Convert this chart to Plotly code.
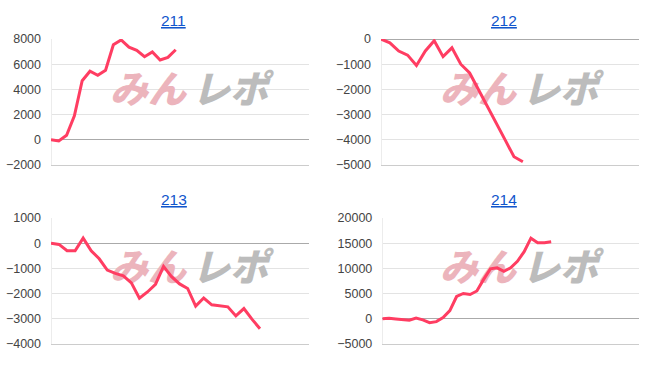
import plotly.graph_objects as go

W, H = 650, 371

titles = ["211", "212", "213", "214"]
s211 = [0, -100, 350, 1900, 4680, 5440, 5120, 5520, 7550, 7930, 7350, 7100, 6590, 6970, 6330, 6540, 7150]
s212 = [0, -150, -475, -640, -1050, -475, -65, -700, -350, -1000, -1350, -2000, -2670, -3340, -4010, -4680, -4880]
s213 = [0, -50, -300, -300, 200, -300, -620, -1070, -1200, -1300, -1580, -2190, -1940, -1640, -920,
        -1330, -1620, -1800, -2500, -2180, -2450, -2500, -2530, -2890, -2600, -3020, -3400]
s214 = [0, 100, -50, -250, -300, 130, -250, -800, -600, 200, 1600, 4400, 5000, 4800, 5500, 7800,
        9900, 10100, 9400, 10100, 11400, 13300, 16000, 15100, 15100, 15300]
series = [s211, s212, s213, s214]
y_ranges = [(-2000, 8000), (-5000, 0), (-4000, 1000), (-5000, 20000)]
y_dticks = [2000, 1000, 1000, 5000]
x_max = [33.1, 29.1, 32.1, 38.0]
watermark = ["みん", "レポ"]
watermark_colors = ["#ecb4bc", "#bcbcbc"]

# pixel geometry of each panel: (left, right, top, bottom)
boxes = [(51, 309, 33.3, 164), (381, 639, 33.3, 164), (51, 309, 219.3, 350), (382.3, 639, 219.3, 350)]
title_pos = [(173.3, 14.5), (504, 14.5), (174, 200), (504, 200)]

def px(x):
    return x / W

def py(y):
    return 1 - y / H

fig = go.Figure()
layout = dict(width=W, height=H, margin=dict(l=0, r=0, t=0, b=0),
              paper_bgcolor="white", plot_bgcolor="white", showlegend=False,
              font=dict(family="Liberation Sans, Arial", size=12, color="#444444"))
annotations = []
for i, (vals, box) in enumerate(zip(series, boxes)):
    n = i + 1
    xa = "x" if n == 1 else f"x{n}"
    ya = "y" if n == 1 else f"y{n}"
    l, r, t, b = box
    dx = 0 if l < 200 else 330
    dy = 0 if t < 100 else 185
    ymin, ymax = y_ranges[i]

    def to_data(pxx, pyy):
        return ((pxx - l) / (r - l) * x_max[i], ymax - (pyy - t) / (b - t) * (ymax - ymin))

    # watermark text (drawn before the data line so it sits underneath)
    for k, (wt, wc) in enumerate(zip(watermark, watermark_colors)):
        wx, wy = to_data([148, 230][k] + dx, 90 + dy)
        fig.add_trace(go.Scatter(x=[wx], y=[wy], mode="text", text=[wt], textposition="middle center",
                                 textfont=dict(family="Noto Sans CJK JP", size=38, color=wc,
                                               weight=900, style="italic"),
                                 xaxis=xa, yaxis=ya, hoverinfo="skip", cliponaxis=False))
    fig.add_trace(go.Scatter(x=list(range(len(vals))), y=vals, mode="lines",
                             line=dict(color="#ff3d62", width=3), xaxis=xa, yaxis=ya,
                             hoverinfo="skip"))
    layout["xaxis" if n == 1 else f"xaxis{n}"] = dict(
        domain=[px(l), px(r)], range=[0, x_max[i]], anchor=ya,
        showticklabels=False, showgrid=False, zeroline=True, zerolinecolor="#ececec",
        zerolinewidth=1, showline=True, linecolor="#cccccc", linewidth=1, ticks="",
        fixedrange=True)
    layout["yaxis" if n == 1 else f"yaxis{n}"] = dict(
        domain=[py(b), py(t)], range=list(y_ranges[i]), dtick=y_dticks[i], tick0=0,
        tickformat="d", anchor=xa, showgrid=True, gridcolor="#e3e3e3", gridwidth=1,
        zeroline=True, zerolinecolor="#aaaaaa", zerolinewidth=1, showline=False,
        ticks="", ticklabelstandoff=9, tickfont=dict(size=12.5, color="#444444"),
        fixedrange=True)
    tx, ty = title_pos[i]
    annotations.append(dict(text=titles[i], x=px(tx), y=py(ty), xref="paper", yref="paper",
                            showarrow=False, xanchor="center", yanchor="middle",
                            font=dict(size=15.5, color="#1155cc", lineposition="under")))

layout["annotations"] = annotations
fig.update_layout(**layout)
fig.write_html("out.html", config={"displayModeBar": False})
